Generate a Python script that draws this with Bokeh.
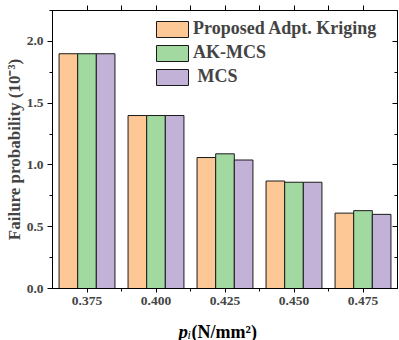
from bokeh.plotting import figure
from bokeh.layouts import column
from bokeh.models import (Range1d, LinearAxis, FixedTicker, PrintfTickFormatter,
                          Legend, LegendItem, Label)
from bokeh.embed import file_html
from bokeh.resources import INLINE

# ---- data ----
pressures = [0.375, 0.400, 0.425, 0.450, 0.475]
proposed = [1.90, 1.40, 1.06, 0.87, 0.61]
ak_mcs = [1.90, 1.40, 1.09, 0.86, 0.63]
mcs = [1.90, 1.40, 1.04, 0.86, 0.60]
series_names = ["Proposed Adpt. Kriging", "AK-MCS", " MCS"]
series_colors = ["#FDC896", "#A1D9A1", "#C3B2D8"]
y_ticks = [0.0, 0.5, 1.0, 1.5, 2.0]
y_minor = [0.25, 0.75, 1.25, 1.75, 2.25]

FONT = "Liberation Serif"
step = pressures[1] - pressures[0]
bw = step * 0.27
x_minor = [x + step / 2 for x in pressures[:-1]]

xr = Range1d(pressures[0] - step / 2, pressures[-1] + step / 2)

p = figure(width=399, height=312, output_backend="svg", toolbar_location=None,
           x_range=xr, y_range=Range1d(0, 2.25),
           min_border_left=52, min_border_right=2, min_border_top=10,
           min_border_bottom=24)
p.xgrid.visible = False
p.ygrid.visible = False
p.outline_line_color = "black"
p.background_fill_color = "white"

renderers = []
for i, vals in enumerate([proposed, ak_mcs, mcs]):
    xs = [x + (i - 1) * bw for x in pressures]
    r = p.vbar(x=xs, top=vals, width=bw, bottom=0,
               fill_color=series_colors[i], line_color="#1a1a1a", line_width=1)
    renderers.append(r)

# bottom axis
xa = p.xaxis[0]
xa.ticker = FixedTicker(ticks=pressures, minor_ticks=x_minor)
xa.formatter = PrintfTickFormatter(format="%.3f")
xa.major_label_text_font = FONT
xa.major_label_text_font_style = "bold"
xa.major_label_text_font_size = "13.5px"
xa.major_label_standoff = 4
xa.major_tick_out = 4
xa.major_tick_in = 0
xa.minor_tick_out = 3
xa.minor_tick_in = 0
xa.axis_line_color = "black"

# left axis
ya = p.yaxis[0]
ya.ticker = FixedTicker(ticks=y_ticks, minor_ticks=y_minor)
ya.formatter = PrintfTickFormatter(format="%.1f")
ya.major_label_text_font = FONT
ya.major_label_text_font_style = "bold"
ya.major_label_text_font_size = "13.5px"
ya.major_label_standoff = 4
ya.major_tick_out = 5
ya.major_tick_in = 0
ya.minor_tick_out = 3
ya.minor_tick_in = 0
ya.axis_label = "Failure probability (10\u207b\u00b3)"
ya.axis_label_text_font = FONT
ya.axis_label_text_font_style = "bold"
ya.axis_label_text_font_size = "17px"
ya.axis_label_standoff = 0

# right axis (ticks inward, no labels)
ra = LinearAxis(ticker=FixedTicker(ticks=y_ticks, minor_ticks=y_minor))
ra.major_label_text_font_size = "1px"
ra.major_label_text_color = None
ra.major_label_standoff = 0
ra.major_tick_in = 5
ra.major_tick_out = 0
ra.minor_tick_in = 3
ra.minor_tick_out = 0
p.add_layout(ra, "right")

# top axis (ticks outward, no labels)
ta = LinearAxis(ticker=FixedTicker(ticks=pressures, minor_ticks=x_minor))
ta.major_label_text_font_size = "1px"
ta.major_label_text_color = None
ta.major_label_standoff = 0
ta.major_tick_out = 5
ta.major_tick_in = 0
ta.minor_tick_out = 5
ta.minor_tick_in = 0
p.add_layout(ta, "above")

legend = Legend(items=[LegendItem(label=series_names[i], renderers=[renderers[i]])
                       for i in range(3)],
                location=(100, 201), glyph_width=40, glyph_height=20, spacing=3,
                label_standoff=1, padding=0, margin=0, border_line_color=None,
                background_fill_alpha=0, label_text_font=FONT,
                label_text_font_style="bold", label_text_font_size="18px")
p.add_layout(legend)

# x axis title strip: p_i (N/mm^2)
t = figure(width=399, height=28, output_backend="svg", toolbar_location=None,
           x_range=xr, y_range=Range1d(0, 28),
           min_border_left=52, min_border_right=2, min_border_top=0,
           min_border_bottom=0, x_axis_location=None, y_axis_location=None)
t.xgrid.visible = False
t.ygrid.visible = False
t.outline_line_color = None
t.border_fill_color = "white"
t.background_fill_color = "white"
xc = pressures[2]
common = dict(text_baseline="alphabetic", text_align="left", text_font=FONT,
              text_color="black")
t.add_layout(Label(x=xc, y=9, x_offset=-46.5, text="p",
                   text_font_style="bold italic", text_font_size="19px", **common))
t.add_layout(Label(x=xc, y=6, x_offset=-37.5, text="i",
                   text_font_style="italic", text_font_size="12px", **common))
t.add_layout(Label(x=xc, y=9, x_offset=-33.5, text="(N/mm\u00b2)",
                   text_font_style="bold", text_font_size="18px", **common))

layout = column(p, t, spacing=0)
open("out.html", "w").write(file_html(layout, INLINE))
